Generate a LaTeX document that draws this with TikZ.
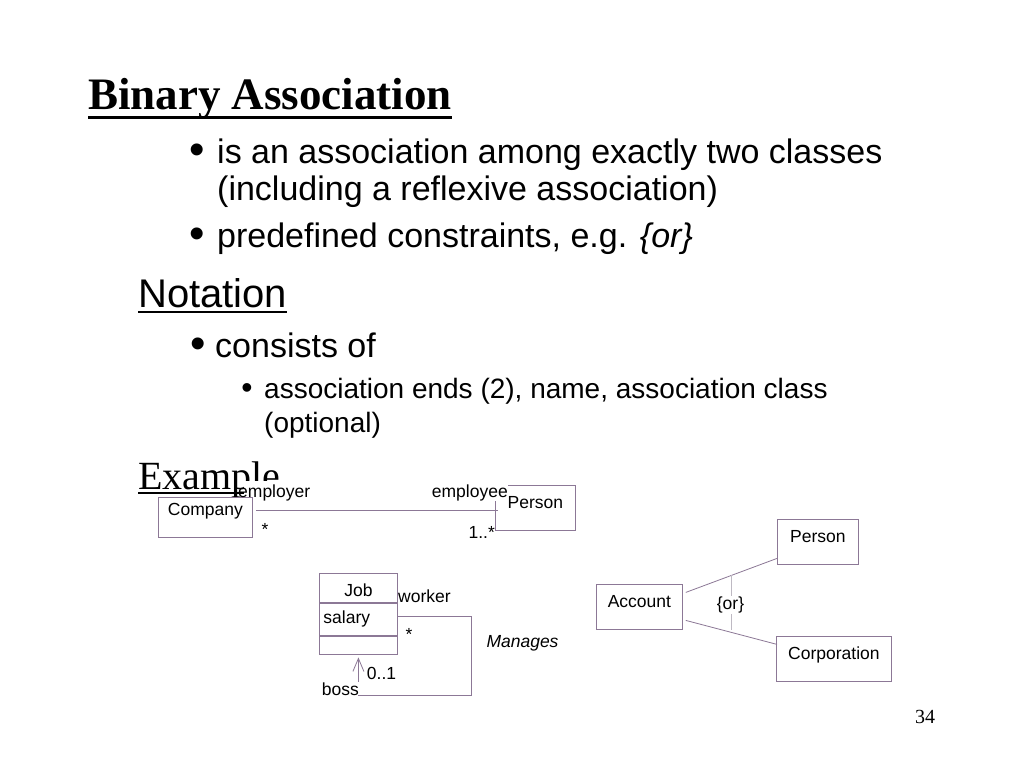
\documentclass[tikz,border=0pt]{standalone}
\usepackage{fontspec}
\setmainfont{Liberation Serif}
\setsansfont{Liberation Sans}
\usetikzlibrary{arrows.meta}

\definecolor{umlline}{RGB}{140,120,150}
\definecolor{orgray}{RGB}{190,185,195}
\newcommand{\slidesize}[1]{\fontsize{#1}{#1}\selectfont}

\begin{document}
\begin{tikzpicture}[x=1pt, y=-1pt,
  txt/.style = {anchor=base west, inner sep=0pt},
  lvlone/.style = {txt, font=\sffamily\slidesize{34}},
  lvlthree/.style = {txt, font=\sffamily\slidesize{28}},
  bulletmark/.style = {inner sep=0pt, font=\sffamily\slidesize{#1}},
  cls/.style = {draw=umlline, line width=0.8pt, anchor=north west, inner xsep=0pt, inner ysep=0pt, font=\sffamily\slidesize{17.5}},
  role/.style = {inner sep=0pt, font=\sffamily\slidesize{17.5}},
  assoc/.style = {draw=umlline, line width=0.8pt}]
\useasboundingbox (0,0) rectangle (1024,768);
\fill[white] (0,0) rectangle (1024,768);

% slide text
\node[txt, font=\bfseries\slidesize{45}] (title) at (88,109) {Binary Association};
\draw[line width=3pt] ([yshift=-8pt]title.base west) -- ([yshift=-8pt]title.base east);
\node[bulletmark=44] (b1) at (197.5,154) {•};
\node[lvlone] (l1) at (217,163) {is an association among exactly two classes};
\node[lvlone] (l2) at (217,200) {(including a reflexive association)};
\node[bulletmark=44] (b2) at (197.5,238) {•};
\node[lvlone] (l3) at (217,247) {predefined constraints, e.g. \textit{\{or\}}};
\node[txt, font=\sffamily\slidesize{40}] (notation) at (138,307) {Notation};
\draw[line width=2.5pt] ([yshift=-5pt]notation.base west) -- ([yshift=-5pt]notation.base east);
\node[bulletmark=44] (b3) at (198,348.5) {•};
\node[lvlone] (l4) at (215,357) {consists of};
\node[bulletmark=32] (b4) at (247,391) {•};
\node[lvlthree] (l5) at (264,398) {association ends (2), name, association class};
\node[lvlthree] (l6) at (264,432) {(optional)};
\node[txt, font=\slidesize{40}] (example) at (138,489) {Example};
\draw[line width=2pt] ([yshift=-4pt]example.base west) -- ([yshift=-4pt]example.base east);
\node[font=\slidesize{20}, inner sep=0pt] (pagenum) at (925,717) {34};

% diagram background
\fill[white] (244,481) rectangle (600,545);

% Company -- Person
\node[cls, minimum width=94pt, text height=18pt, text depth=22pt] (company) at (158,497) {Company};
\node[cls, minimum width=80pt, text height=23pt, text depth=22pt] (person1) at (495,485) {Person};
\draw[assoc] ([shift={(3,-7)}]company.east) -- ([shift={(3,-7)}]company.east -| person1.west);
\node[role, anchor=base west] (employer) at (238,497) {employer};
\node[role, anchor=base east, fill=white] (employee) at (508,497) {employee};
\node[role] (many1) at (265,529) {*};
\node[role, anchor=east] (many2) at (495,532) {1..*};

% Job, reflexive
\node[cls, minimum width=78pt, text height=23pt, text depth=6pt] (jobname) at (319,573) {Job};
\node[cls, text width=70pt, inner xsep=4pt, align=left, text height=20pt, text depth=12pt] (jobattr) at (jobname.south west) {salary};
\node[cls, minimum width=78pt, minimum height=18pt] (jobops) at (jobattr.south west) {};
\coordinate (loopc) at (471,695);
\draw[assoc, -{Straight Barb[length=13pt, width=11pt]}] ([shift={(0,-3)}]jobattr.east) -| (loopc) -| ([shift={(0,3)}]jobops.south);
\node[role, anchor=base west] (worker) at (398,602) {worker};
\node[role] (many3) at (409,634) {*};
\node[role] (zeroone) at (381.5,673) {0..1};
\node[role, anchor=base east, fill=white, inner xsep=3pt] (boss) at (362,695) {boss};
\node[role, font=\sffamily\itshape\slidesize{17.5}] (manages) at (522.5,643) {Manages};

% Account, {or}
\node[cls, minimum width=86pt, text height=23pt, text depth=22pt] (account) at (596,584) {Account};
\node[cls, minimum width=81pt, text height=23pt, text depth=22pt] (person3) at (777,519) {Person};
\node[cls, minimum width=115pt, text height=23pt, text depth=22pt] (corp) at (776,636) {Corporation};
\draw[assoc] ([shift={(3,-14.5)}]account.east) -- ([shift={(0,16.5)}]person3.west);
\draw[assoc] ([shift={(3,13.5)}]account.east) -- ([shift={(1,-14.5)}]corp.west);
\coordinate (ortop) at (731,575);
\coordinate (orbot) at (731,630);
\draw[orgray, line width=0.8pt] (ortop) -- (orbot);
\node[role, fill=white, inner sep=1pt] (orlabel) at (730.5,605) {\{or\}};
\end{tikzpicture}
\end{document}
